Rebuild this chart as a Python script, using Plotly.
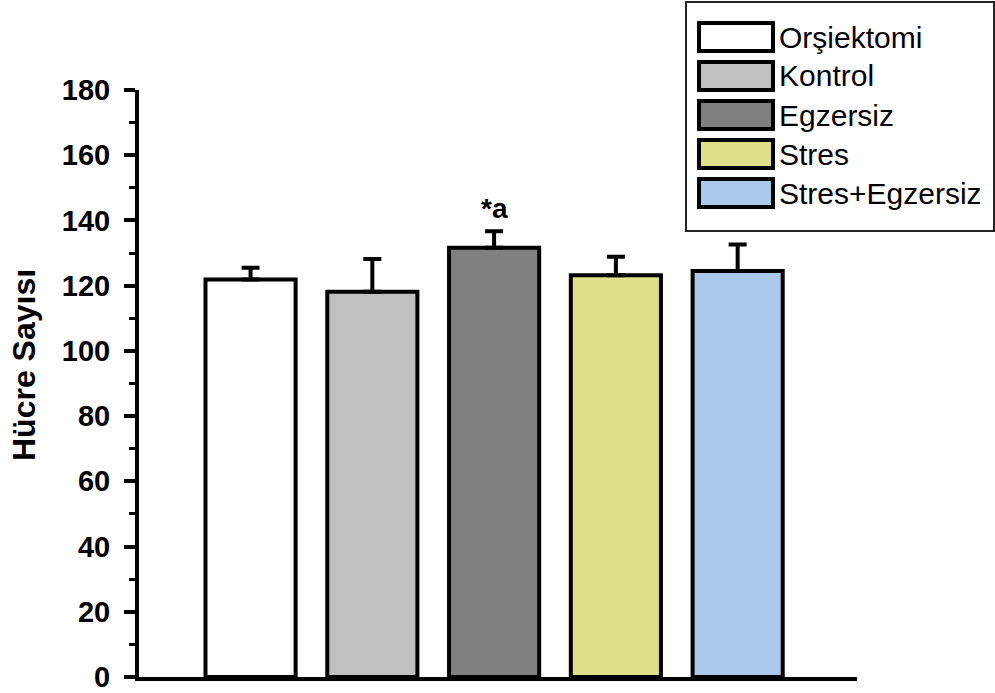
import plotly.graph_objects as go

# Group data: mean cell counts with upper error (SEM)
groups = ["Orşiektomi", "Kontrol", "Egzersiz", "Stres", "Stres+Egzersiz"]
means = [121.9, 118.1, 131.6, 123.2, 124.5]
errors = [3.6, 10.1, 5.1, 5.7, 8.1]
bar_colors = ["#ffffff", "#c0c0c0", "#808080", "#dee08a", "#aac8ea"]
y_tick_values = [0, 20, 40, 60, 80, 100, 120, 140, 160, 180]
y_title = "Hücre Sayısı"
sig_label = "*a"
sig_group = 2

W, H = 995, 693
PL, PR, PT, PB = 139, 857, 90, 677  # plot area in pixels

def px(x):
    return (x - PL) / (PR - PL)

def py(y):
    return (PB - y) / (PB - PT)

FONT = "Liberation Sans, Arial, sans-serif"
xs = list(range(len(groups)))

fig = go.Figure()
fig.add_trace(go.Bar(
    x=xs, y=means, width=0.74,
    marker=dict(color=bar_colors, line=dict(color="black", width=4)),
    error_y=dict(type="data", symmetric=False, array=errors,
                 arrayminus=[0] * len(errors),
                 color="black", thickness=4, width=9),
    showlegend=False,
))

# significance marker above the Egzersiz bar
fig.add_annotation(
    x=xs[sig_group], y=means[sig_group] + errors[sig_group],
    text=sig_label, showarrow=False, yanchor="bottom", yshift=5,
    font=dict(family=FONT, size=28, color="black", weight="bold"),
)

# y-axis title
fig.add_annotation(
    x=px(24), y=py(365), xref="paper", yref="paper",
    text=y_title, textangle=-90, showarrow=False,
    xanchor="center", yanchor="middle",
    font=dict(family=FONT, size=32, color="black", weight="bold"),
)

# custom legend box with large swatches
shapes = [dict(type="rect", xref="paper", yref="paper",
               x0=px(686), x1=px(994), y0=py(2), y1=py(231),
               line=dict(color="#222222", width=2), fillcolor="white",
               layer="above")]
for i, (g, c) in enumerate(zip(groups, bar_colors)):
    top = 23 + 39 * i
    shapes.append(dict(type="rect", xref="paper", yref="paper",
                       x0=px(699), x1=px(773), y0=py(top), y1=py(top + 28),
                       line=dict(color="black", width=4), fillcolor=c,
                       layer="above"))
    fig.add_annotation(
        x=px(777), y=py(top + 14), xref="paper", yref="paper",
        text=g, showarrow=False, xanchor="left", yanchor="middle",
        font=dict(family=FONT, size=30, color="black"),
    )

fig.update_layout(
    width=W, height=H,
    margin=dict(l=PL, r=W - PR, t=PT, b=H - PB, pad=0, autoexpand=False),
    paper_bgcolor="white", plot_bgcolor="white",
    shapes=shapes,
    xaxis=dict(range=[-0.916, 4.98], showgrid=False, zeroline=False,
               showticklabels=False, ticks="", showline=True,
               linecolor="black", linewidth=4, automargin=False),
    yaxis=dict(range=[0, 180], tickvals=y_tick_values, showgrid=False,
               zeroline=False, showline=True, linecolor="black", linewidth=4,
               ticks="outside", ticklen=11, tickwidth=4, tickcolor="black",
               ticklabelstandoff=8, ticklabeloverflow="allow", automargin=False,
               tickfont=dict(family=FONT, size=29, color="black", weight="bold"),
               minor=dict(dtick=10, ticks="outside", ticklen=6, tickwidth=3,
                          tickcolor="black", showgrid=False)),
)

fig.write_html("out.html")
